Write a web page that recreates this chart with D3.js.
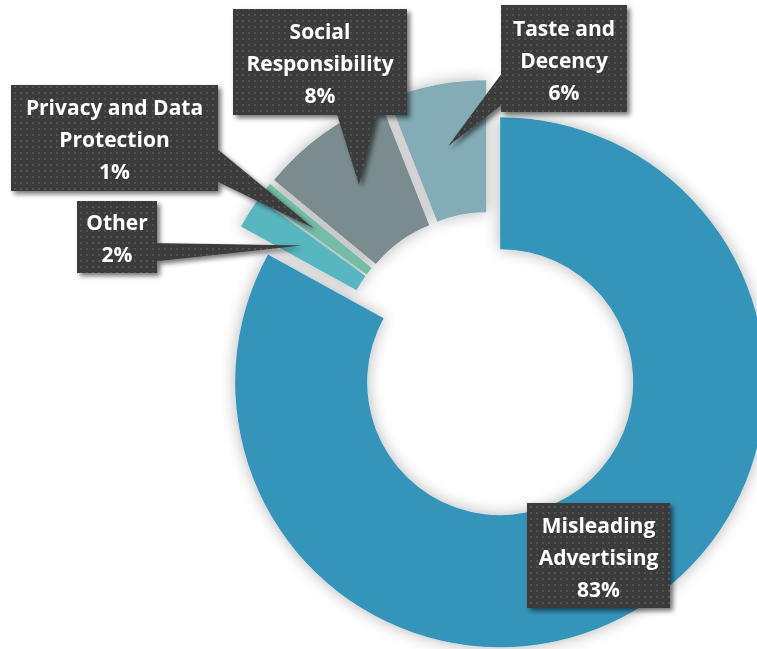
<!DOCTYPE html>
<html>
<head>
<meta charset="utf-8">
<script src="https://cdn.jsdelivr.net/npm/d3@7"></script>
<style>
  body { margin: 0; background: #fff; }
  svg { display: block; }
</style>
</head>
<body>
<script>
// complaint categories and their share (%)
var categories = ["Misleading Advertising", "Other", "Privacy and Data Protection", "Social Responsibility", "Taste and Decency"];
var values = [83, 2, 1, 8, 6];
var colors = ["#3494ba", "#58b6c0", "#75bda7", "#7a8c8e", "#84acb6"];
// how each label is broken into lines
var labelLines = [
	["Misleading", "Advertising", "83%"],
	["Other", "2%"],
	["Privacy and Data", "Protection", "1%"],
	["Social", "Responsibility", "8%"],
	["Taste and", "Decency", "6%"]
];

// label boxes (x, y, w, h) and the base of their pointer (null = no pointer)
var boxes = [
	{x: 527, y: 503, w: 143, h: 105, base: null},
	{x: 77, y: 201, w: 80, h: 72, base: [[150, 243], [150, 262]]},
	{x: 11, y: 85, w: 207, h: 106, base: [[210, 143], [210, 178]]},
	{x: 233, y: 9, w: 174, h: 106, base: [[335, 108], [378, 108]]},
	{x: 501, y: 5, w: 126, h: 107, base: [[508, 65], [508, 100]]}
];

var width = 757,
	height = 649;

var cx = 490, cy = 365,
	outerR = 265, innerR = 133,
	explode = 20;

var svg = d3.select("body").append("svg")
	.attr("width", width)
	.attr("height", height);

var defs = svg.append("defs");

var pat = defs.append("pattern")
	.attr("id", "dots")
	.attr("patternUnits", "userSpaceOnUse")
	.attr("width", 6)
	.attr("height", 6);
pat.append("rect").attr("width", 6).attr("height", 6).attr("fill", "#3b3b3b");
pat.append("rect").attr("x", 2).attr("y", 2).attr("width", 2).attr("height", 2).attr("fill", "#525252");

// soft glow round the slices
var glow = defs.append("filter").attr("id", "glow")
	.attr("x", "-20%").attr("y", "-20%").attr("width", "140%").attr("height", "140%");
glow.append("feGaussianBlur").attr("in", "SourceAlpha").attr("stdDeviation", 8).attr("result", "b");
glow.append("feComponentTransfer").attr("in", "b").attr("result", "s")
	.append("feFuncA").attr("type", "linear").attr("slope", 0.3);
var gm = glow.append("feMerge");
gm.append("feMergeNode").attr("in", "s");
gm.append("feMergeNode").attr("in", "SourceGraphic");

// drop shadow for the callouts
var drop = defs.append("filter").attr("id", "drop")
	.attr("x", "-20%").attr("y", "-20%").attr("width", "140%").attr("height", "140%");
drop.append("feGaussianBlur").attr("in", "SourceAlpha").attr("stdDeviation", 2.5).attr("result", "b");
drop.append("feOffset").attr("in", "b").attr("dx", 3).attr("dy", 3).attr("result", "o");
drop.append("feComponentTransfer").attr("in", "o").attr("result", "s")
	.append("feFuncA").attr("type", "linear").attr("slope", 0.55);
var dm = drop.append("feMerge");
dm.append("feMergeNode").attr("in", "s");
dm.append("feMergeNode").attr("in", "SourceGraphic");

var data = categories.map(function(c, i){
	return {name: c, value: values[i], color: colors[i], lines: labelLines[i], box: boxes[i]};
});

var pie = d3.pie()
	.sort(null)
	.value(function(d){ return d.value; });

var arc = d3.arc()
	.innerRadius(innerR)
	.outerRadius(outerR);

var tipArc = d3.arc()
	.innerRadius(203)
	.outerRadius(203);

var arcs = pie(data);

function offset(d){
	var a = (d.startAngle + d.endAngle) / 2;
	return [cx + Math.sin(a) * explode, cy - Math.cos(a) * explode];
}

svg.append("g")
	.attr("filter", "url(#glow)")
	.selectAll("path")
	.data(arcs)
	.enter().append("path")
		.attr("transform", function(d){ return "translate(" + offset(d) + ")"; })
		.attr("d", arc)
		.attr("fill", function(d){ return d.data.color; });

// callouts
var callouts = svg.selectAll(".callout")
	.data(arcs)
	.enter().append("g")
		.classed("callout", true)
		.attr("filter", "url(#drop)");

callouts.filter(function(d){ return d.data.box.base; })
	.append("path")
	.attr("fill", "url(#dots)")
	.attr("d", function(d){
		var o = offset(d);
		var c = tipArc.centroid(d);
		var tip = [o[0] + c[0], o[1] + c[1]];
		var b = d.data.box.base;
		return "M" + b[0] + "L" + tip + "L" + b[1] + "Z";
	});

callouts.append("rect")
	.attr("x", function(d){ return d.data.box.x; })
	.attr("y", function(d){ return d.data.box.y; })
	.attr("width", function(d){ return d.data.box.w; })
	.attr("height", function(d){ return d.data.box.h; })
	.attr("fill", "url(#dots)");

callouts.append("text")
	.attr("text-anchor", "middle")
	.attr("fill", "#fff")
	.style("font-family", "'Open Sans', sans-serif")
	.style("font-weight", "bold")
	.style("font-size", "21px")
	.style("font-variant-ligatures", "none")
	.selectAll("tspan")
	.data(function(d){
		var b = d.data.box;
		var n = d.data.lines.length;
		var top = b.y + b.h / 2 - (n - 1) * 32 / 2 + 9;
		return d.data.lines.map(function(t, i){
			return {t: t, x: b.x + b.w / 2, y: top + i * 32};
		});
	})
	.enter().append("tspan")
		.attr("x", function(d){ return d.x; })
		.attr("y", function(d){ return d.y; })
		.text(function(d){ return d.t; });
</script>
</body>
</html>
